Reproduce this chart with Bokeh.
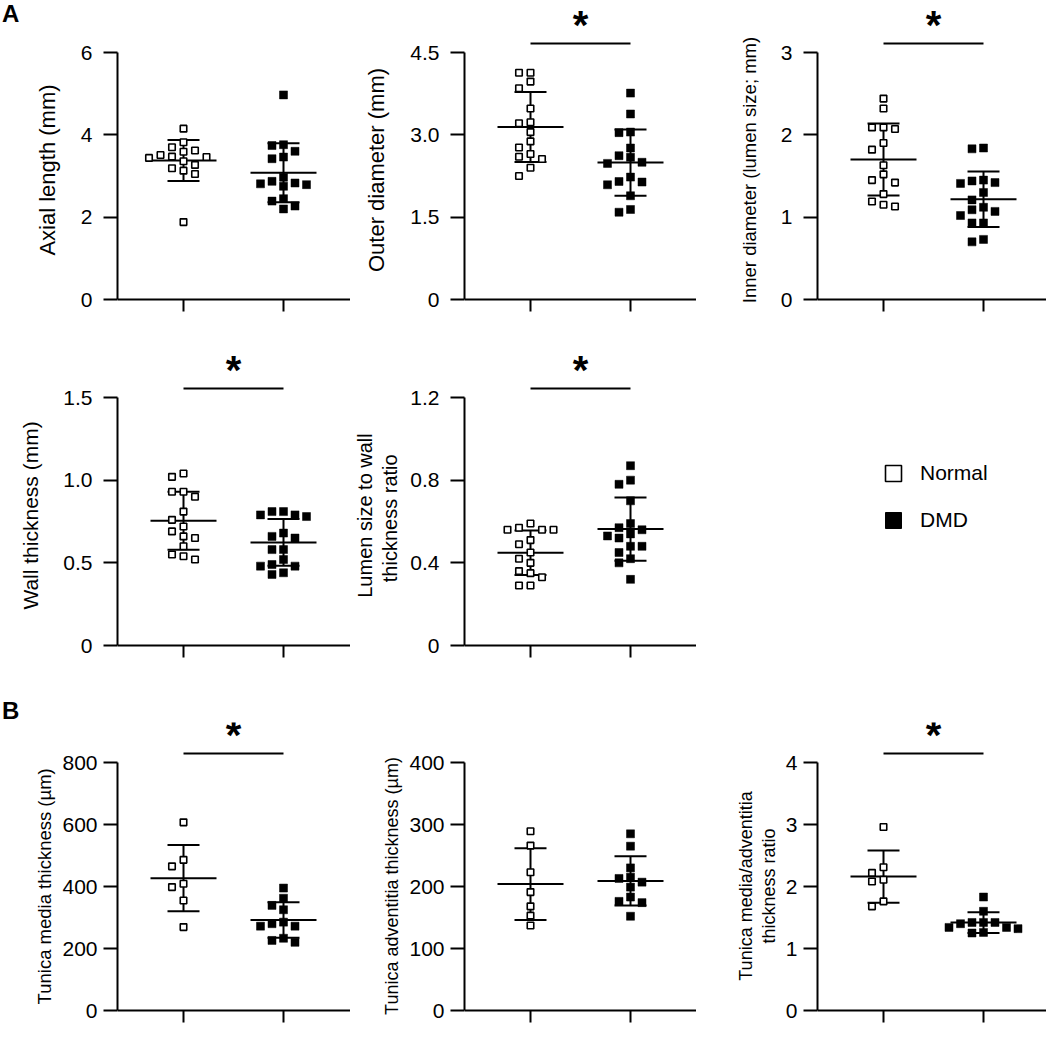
import numpy as np
from bokeh.plotting import figure
from bokeh.layouts import column, row
from bokeh.models import FixedTicker, Legend, LegendItem, Label, Range1d, Div
from bokeh.embed import file_html
from bokeh.resources import INLINE

FONT = "Liberation Sans"

groups = ["Normal", "DMD"]

# ---- Panel A values ----
axial_normal = [4.15, 3.82, 3.70, 3.62, 3.59, 3.51, 3.47, 3.46, 3.44, 3.36, 3.27, 3.19, 3.13, 3.05, 1.88]
axial_dmd = [4.97, 3.76, 3.74, 3.60, 3.46, 3.42, 2.97, 2.87, 2.83, 2.81, 2.79, 2.75, 2.45, 2.39, 2.27, 2.20]

outer_normal = [4.13, 4.13, 3.97, 3.85, 3.48, 3.23, 3.21, 3.05, 2.88, 2.77, 2.65, 2.60, 2.56, 2.40, 2.25]
outer_dmd = [3.76, 3.38, 3.05, 3.04, 2.76, 2.62, 2.59, 2.50, 2.48, 2.23, 2.15, 2.14, 2.09, 1.89, 1.64, 1.59]

inner_normal = [2.44, 2.32, 2.09, 2.09, 2.07, 1.90, 1.82, 1.63, 1.52, 1.45, 1.42, 1.28, 1.19, 1.15, 1.13]
inner_dmd = [1.84, 1.83, 1.45, 1.44, 1.42, 1.41, 1.30, 1.21, 1.12, 1.09, 1.07, 1.02, 0.93, 0.93, 0.73, 0.70]

wall_normal = [1.04, 1.02, 0.93, 0.93, 0.90, 0.81, 0.76, 0.72, 0.69, 0.66, 0.65, 0.60, 0.55, 0.54, 0.52]
wall_dmd = [0.81, 0.81, 0.79, 0.79, 0.78, 0.68, 0.66, 0.65, 0.58, 0.58, 0.52, 0.49, 0.48, 0.48, 0.44, 0.43]

ratio_normal = [0.59, 0.57, 0.56, 0.56, 0.56, 0.51, 0.49, 0.45, 0.42, 0.40, 0.36, 0.35, 0.33, 0.29, 0.29]
ratio_dmd = [0.87, 0.80, 0.78, 0.70, 0.59, 0.57, 0.56, 0.54, 0.53, 0.52, 0.48, 0.48, 0.45, 0.42, 0.40, 0.32]

# ---- Panel B values ----
media_normal = [607, 486, 465, 409, 398, 355, 269]
media_dmd = [395, 362, 339, 325, 285, 280, 272, 272, 233, 226, 220]

advent_normal = [289, 266, 223, 191, 168, 153, 137]
advent_dmd = [285, 265, 230, 215, 213, 207, 199, 183, 176, 174, 152]

mratio_normal = [2.96, 2.31, 2.22, 2.11, 2.08, 1.76, 1.68]
mratio_dmd = [1.83, 1.60, 1.42, 1.42, 1.42, 1.40, 1.34, 1.34, 1.32, 1.26, 1.25]

y_labels = [
    "Axial length (mm)",
    "Outer diameter (mm)",
    "Inner diameter (lumen size; mm)",
    "Wall thickness (mm)",
    "Lumen size to wall\nthickness  ratio",
    "Tunica media thickness (\u00b5m)",
    "Tunica adventitia thickness (\u00b5m)",
    "Tunica media/adventitia\nthickness ratio",
]
y_ticks = [
    [0, 2, 4, 6],
    [0, 1.5, 3.0, 4.5],
    [0, 1, 2, 3],
    [0, 0.5, 1.0, 1.5],
    [0, 0.4, 0.8, 1.2],
    [0, 200, 400, 600, 800],
    [0, 100, 200, 300, 400],
    [0, 1, 2, 3, 4],
]
y_tick_text = [
    ["0", "2", "4", "6"],
    ["0", "1.5", "3.0", "4.5"],
    ["0", "1", "2", "3"],
    ["0", "0.5", "1.0", "1.5"],
    ["0", "0.4", "0.8", "1.2"],
    ["0", "200", "400", "600", "800"],
    ["0", "100", "200", "300", "400"],
    ["0", "1", "2", "3", "4"],
]
significant = [False, True, True, True, True, True, False, True]
panel_letters = ["A", "B"]

# ---- layout constants (pixels) ----
LETTER_W = 20
COL_LEFT = [117, 114, 121]
COL_FRAME_W = [233, 232, 229]
ROWS = [
    dict(mbt=10, ext_top=42, axis_h=247, ext_bot=30, mbb=12),
    dict(mbt=2, ext_top=54, axis_h=248, ext_bot=42, mbb=12),
    dict(mbt=23, ext_top=40, axis_h=248, ext_bot=14, mbb=12),
]
LABEL_PAD = [0, 0, 5]
LABEL_SIZE = ["22px", "22px", "18.5px", "21px", "20px", "18.5px", "18px", "18px"]
X_PX = 100.0
X_START = 0.34
CENTERS = [1, 2]


def row_height(r):
    R = ROWS[r]
    return R["mbt"] + R["ext_top"] + R["axis_h"] + R["ext_bot"] + R["mbb"]


def swarm(vals, center, ppu, step=11.5, gap=8.5):
    vals = np.asarray(vals, float)
    order = np.argsort(-vals, kind="stable")
    placed = []
    xs = np.empty(len(vals))
    cands = [0]
    for k in range(1, 7):
        cands += [-k, k]
    for i in order:
        y = vals[i] * ppu
        x = 0.0
        for k in cands:
            x = k * step
            if all(abs(x - px) >= step * 0.9 or abs(y - py) >= gap for px, py in placed):
                break
        placed.append((x, y))
        xs[i] = center + x / X_PX
    return xs


def style_axes(p, i, r):
    for ax in p.axis:
        ax.axis_line_width = 2
        ax.axis_line_color = "black"
        ax.major_tick_line_width = 2
        ax.major_tick_line_color = "black"
        ax.minor_tick_line_width = 2
        ax.minor_tick_line_color = "black"
        ax.major_tick_in = 0
        ax.minor_tick_in = 0
        ax.major_label_text_color = "black"
        ax.major_label_text_font = FONT
    xa = p.xaxis[0]
    # group positions marked by unlabeled ticks
    xa.ticker = FixedTicker(ticks=[], minor_ticks=CENTERS)
    xa.fixed_location = 0
    xa.major_tick_out = 0
    xa.minor_tick_out = 12
    xa.major_label_standoff = 0
    ya = p.yaxis[0]
    ya.ticker = FixedTicker(ticks=y_ticks[i], minor_ticks=[])
    ya.minor_tick_out = 0
    ya.major_label_overrides = {t: s for t, s in zip(y_ticks[i], y_tick_text[i])}
    ya.bounds = (0, y_ticks[i][-1])
    ya.major_tick_out = 14
    ya.major_label_standoff = 6 if r == 2 else 11
    ya.major_label_text_font_size = "21px"
    pad = "\u00a0" * LABEL_PAD[r]
    ya.axis_label = "\n".join(line + pad for line in y_labels[i].split("\n"))
    ya.axis_label_text_font = FONT
    ya.axis_label_text_font_size = LABEL_SIZE[i]
    ya.axis_label_text_font_style = "normal"
    ya.axis_label_text_color = "black"
    ya.axis_label_text_line_height = 1.15
    if r == 2:
        ya.axis_label_standoff = 4
    elif "\n" in y_labels[i]:
        ya.axis_label_standoff = 6
    else:
        ya.axis_label_standoff = 18


def make_panel(i, col, r, normal, dmd, left_border):
    R = ROWS[r]
    top = y_ticks[i][-1]
    ppu = R["axis_h"] / top
    fh = R["ext_top"] + R["axis_h"] + R["ext_bot"]
    y_start = -R["ext_bot"] / ppu
    y_end = top + R["ext_top"] / ppu
    x_end = X_START + COL_FRAME_W[col] / X_PX
    p = figure(
        frame_width=COL_FRAME_W[col], frame_height=fh,
        min_border_left=left_border, min_border_right=0,
        min_border_top=R["mbt"], min_border_bottom=R["mbb"],
        x_range=Range1d(X_START, x_end), y_range=Range1d(y_start, y_end),
        output_backend="svg", toolbar_location=None,
        outline_line_color=None, background_fill_color="white",
        border_fill_color="white",
    )
    p.grid.visible = False
    style_axes(p, i, r)

    data = [normal, dmd]
    means = [float(np.mean(d)) for d in data]
    sds = [float(np.std(d, ddof=1)) for d in data]
    lo = [m - s for m, s in zip(means, sds)]
    hi = [m + s for m, s in zip(means, sds)]
    p.segment(x0=[c - 0.33 for c in CENTERS], y0=means, x1=[c + 0.33 for c in CENTERS], y1=means,
              line_color="black", line_width=2)
    p.segment(x0=CENTERS, y0=lo, x1=CENTERS, y1=hi, line_color="black", line_width=2)
    p.segment(x0=[c - 0.16 for c in CENTERS], y0=lo, x1=[c + 0.16 for c in CENTERS], y1=lo,
              line_color="black", line_width=2)
    p.segment(x0=[c - 0.16 for c in CENTERS], y0=hi, x1=[c + 0.16 for c in CENTERS], y1=hi,
              line_color="black", line_width=2)

    xn = swarm(normal, CENTERS[0], ppu)
    xd = swarm(dmd, CENTERS[1], ppu)
    p.scatter(x=xn, y=normal, marker="square", size=6.5, fill_color="white",
              line_color="black", line_width=1.6)
    p.scatter(x=xd, y=dmd, marker="square", size=8, fill_color="black",
              line_color="black", line_width=0.5)

    if significant[i]:
        ys = top + 9 / ppu
        p.segment(x0=[CENTERS[0]], y0=[ys], x1=[CENTERS[1]], y1=[ys], line_color="black", line_width=2)
        ya = top + 28 / ppu
        p.add_layout(Label(x=sum(CENTERS) / 2, y=ya, text="*", text_align="center", text_baseline="middle",
                           text_font=FONT, text_font_size="40px", text_font_style="bold",
                           text_color="black"))
    return p


def letter_div(r, letter, pad_top):
    html = ('<div style="font-family: \'%s\'; font-size: 24px; font-weight: bold; color: black; '
            'line-height: 1; margin: 0; padding: %dpx 0 0 2px;">%s</div>' % (FONT, pad_top, letter))
    return Div(text=html, width=LETTER_W, height=row_height(r), margin=(0, 0, 0, 0))


series = [
    (axial_normal, axial_dmd), (outer_normal, outer_dmd), (inner_normal, inner_dmd),
    (wall_normal, wall_dmd), (ratio_normal, ratio_dmd),
    (media_normal, media_dmd), (advent_normal, advent_dmd), (mratio_normal, mratio_dmd),
]
grid_pos = [(0, 0), (1, 0), (2, 0), (0, 1), (1, 1), (0, 2), (1, 2), (2, 2)]

figs = []
for i, ((n, d), (c, r)) in enumerate(zip(series, grid_pos)):
    lb = COL_LEFT[c]
    if c == 0 and r in (0, 2):
        lb -= LETTER_W
    figs.append(make_panel(i, c, r, n, d, lb))

# legend figure (row 2, right)
R = ROWS[1]
pl = figure(
    frame_width=350, frame_height=R["ext_top"] + R["axis_h"] + R["ext_bot"],
    min_border_left=0, min_border_right=0, min_border_top=R["mbt"], min_border_bottom=R["mbb"],
    x_axis_type=None, y_axis_type=None,
    x_range=Range1d(0, 1), y_range=Range1d(0, 1),
    output_backend="svg", toolbar_location=None, outline_line_color=None,
)
pl.grid.visible = False
rn = pl.rect(x=[np.nan], y=[np.nan], width=0.1, height=0.1, fill_color="white",
             line_color="black", line_width=1.6)
rd = pl.rect(x=[np.nan], y=[np.nan], width=0.1, height=0.1, fill_color="black",
             line_color="black", line_width=1)
legend = Legend(
    items=[LegendItem(label=groups[0], renderers=[rn]), LegendItem(label=groups[1], renderers=[rd])],
    location=(187, 155), glyph_width=20, glyph_height=20, label_height=20, spacing=23,
    label_standoff=17, padding=0, margin=0, border_line_color=None, background_fill_alpha=0,
    label_text_font=FONT, label_text_font_size="21px", label_text_color="black",
)
pl.add_layout(legend)

layout = column(
    row(letter_div(0, panel_letters[0], 2), figs[0], figs[1], figs[2]),
    row(figs[3], figs[4], pl),
    row(letter_div(2, panel_letters[1], 0), figs[5], figs[6], figs[7]),
)

open("out.html", "w").write(file_html(layout, INLINE))
